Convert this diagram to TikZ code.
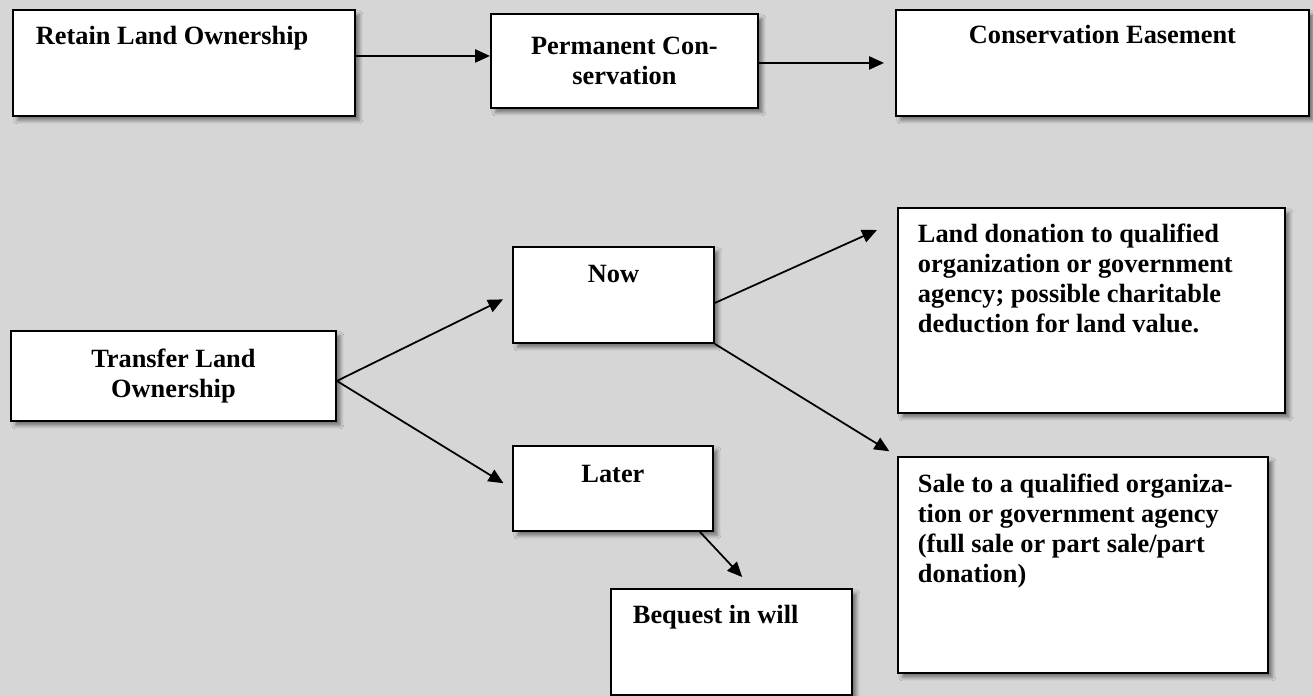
\documentclass[tikz,border=0pt]{standalone}
\usepackage{fontspec}
\setmainfont{Liberation Serif}
\usepackage{tikz}
\usetikzlibrary{arrows.meta, shadows.blur}
\definecolor{paper}{RGB}{214,214,214}
\newcommand{\boxbody}[5]{\parbox[t][#2][t]{#1}{#3\rule{0pt}{#4}#5}}

\begin{document}
\begin{tikzpicture}[x=0.02cm, y=-0.02cm,
		card/.style={draw, fill=white, line width=1.1pt, anchor=north west, inner ysep=0pt,
			font=\fontsize{15}{17}\selectfont\bfseries,
			blur shadow={shadow xshift=2.5pt, shadow yshift=-2.5pt, shadow blur radius=2pt, shadow opacity=45}},
		link/.style={-{Triangle[length=8.5pt, width=7.5pt]}, line width=1pt}]
			\fill[paper] (0,0) rectangle (1313,696);
			\node[card, inner xsep=0.46cm] (retain) at (12,9) {\boxbody{5.92cm}{2.12cm}{\raggedright}{0.70cm}{Retain Land Ownership}};
			\node[card, inner xsep=0.2cm] (perm) at (490,13) {\boxbody{4.94cm}{1.88cm}{\centering}{0.82cm}{Permanent Con-\\servation}};
			\node[card, inner xsep=0.2cm] (ease) at (895,9) {\boxbody{7.86cm}{2.12cm}{\centering}{0.68cm}{Conservation Easement}};
			\node[card, inner xsep=0.2cm] (transfer) at (10,330) {\boxbody{6.1cm}{1.8cm}{\centering}{0.74cm}{Transfer Land\\Ownership}};
			\node[card, inner xsep=0.2cm] (now) at (512,246) {\boxbody{3.62cm}{1.92cm}{\centering}{0.72cm}{Now}};
			\node[card, inner xsep=0.2cm] (later) at (512,445) {\boxbody{3.6cm}{1.7cm}{\centering}{0.74cm}{Later}};
			\node[card, inner xsep=0.44cm] (bequest) at (610,588) {\boxbody{3.94cm}{2.12cm}{\raggedright}{0.70cm}{Bequest in will}};
			\node[card, inner xsep=0.4cm] (land) at (897,207) {\boxbody{6.94cm}{4.1cm}{\raggedright}{0.70cm}{Land donation to qualified\\organization or government\\agency; possible charitable\\deduction for land value.}};
			\node[card, inner xsep=0.4cm] (sale) at (897,456) {\boxbody{6.6cm}{4.32cm}{\raggedright}{0.72cm}{Sale to a qualified organiza-\\tion or government agency\\(full sale or part sale/part\\donation)}};
			\draw[link] ([yshift=0.1cm]retain.east |- perm.west) -- ([yshift=0.1cm]perm.west);
			\draw[link, shorten >=0.22cm] (perm.east |- ease.west) -- (ease.west);
			\draw[link, shorten >=0.2cm] ([yshift=-0.1cm]transfer.east) -- (now.west);
			\draw[link, shorten >=0.2cm] ([yshift=-0.1cm]transfer.east) -- (later.west);
			\draw[link] ([yshift=-0.16cm]now.east) -- ([xshift=-0.4cm, yshift=-0.46cm]land.north west);
			\draw[link, shorten >=0.18cm] (now.south east) -- (sale.north west);
			\draw[link, shorten >=0.3cm] ([xshift=-0.28cm]later.south east) -- ([xshift=2.85cm]bequest.north west);
		\end{tikzpicture}
\end{document}
